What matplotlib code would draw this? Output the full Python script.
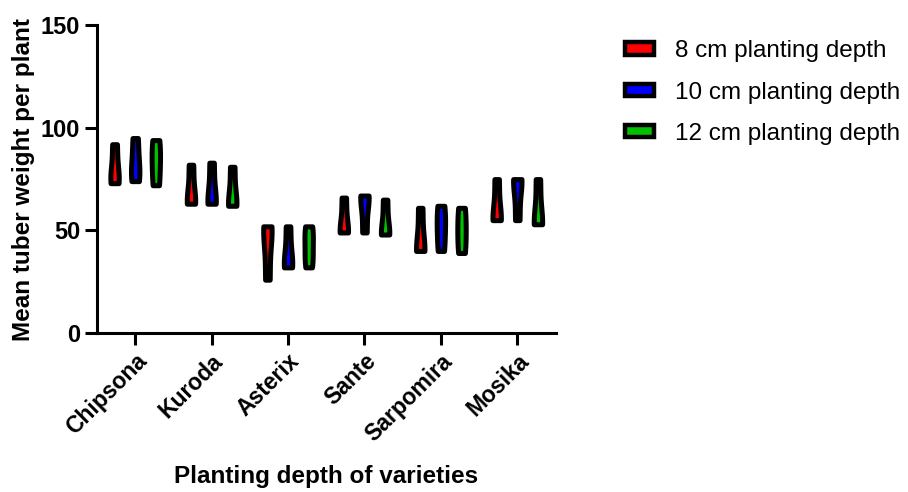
import numpy as np
import matplotlib.pyplot as plt
from matplotlib.patches import Patch

plt.rcParams['font.family'] = ['Liberation Sans', 'DejaVu Sans']

# varieties on the x axis
varieties = ['Chipsona', 'Kuroda', 'Asterix', 'Sante', 'Sarpomira', 'Mosika']
depths = ['8 cm planting depth', '10 cm planting depth', '12 cm planting depth']
colors = ['#FF0000', '#0000FF', '#00C000']

# replicate tuber weights (g), one list per variety
depth_8 = [[73, 77, 92], [63, 65, 82], [26, 49, 52], [49, 50, 66], [40, 41, 61], [55, 56, 75]]
depth_10 = [[74, 81, 95], [63, 65, 83], [32, 35, 52], [49, 66, 67], [40, 52, 62], [55, 74, 75]]
depth_12 = [[72, 84, 94], [62, 64, 81], [32, 38, 47, 52], [48, 49, 65], [39, 50, 61], [53, 54, 75]]
series = [depth_8, depth_10, depth_12]

fig = plt.figure(figsize=(9.08, 4.92), dpi=100)
ax = fig.add_axes([0.1068, 0.323, 0.505, 0.626])

x = np.arange(len(varieties))
offsets = [-0.27, 0.0, 0.27]
for data, off, col in zip(series, offsets, colors):
    parts = ax.violinplot(data, positions=x + off, widths=0.11, showextrema=False,
                          bw_method=0.7, points=200)
    for body in parts['bodies']:
        body.set_facecolor(col)
        body.set_edgecolor('black')
        body.set_linewidth(3.6)
        body.set_alpha(1)
        body.set_joinstyle('round')

ax.set_xlim(-0.5, 5.5)
ax.set_ylim(0, 150)
ax.set_yticks([0, 50, 100, 150])
ax.set_xticks(x)
ax.set_xticklabels(varieties, rotation=45, ha='right', rotation_mode='anchor',
                   fontsize=16.5, fontweight='bold')
for t in ax.get_yticklabels():
    t.set_fontsize(17)
    t.set_fontweight('bold')
ax.spines['top'].set_visible(False)
ax.spines['right'].set_visible(False)
ax.spines['left'].set_linewidth(2.2)
ax.spines['bottom'].set_linewidth(2.2)
ax.tick_params(width=2.2, length=8.5)
ax.set_ylabel('Mean tuber weight per plant', fontsize=17.5, fontweight='bold', labelpad=4)
ax.set_xlabel('Planting depth of varieties', fontsize=17.5, fontweight='bold', labelpad=14)

handles = [Patch(facecolor=c, edgecolor='black', linewidth=3.2) for c in colors]
fig.legend(handles, depths, loc='upper left', bbox_to_anchor=(0.664, 0.963), frameon=False,
           fontsize=17.5, handlelength=1.2, handleheight=0.4, labelspacing=0.8, handletextpad=0.85)

fig.savefig('out.png', dpi=100)
